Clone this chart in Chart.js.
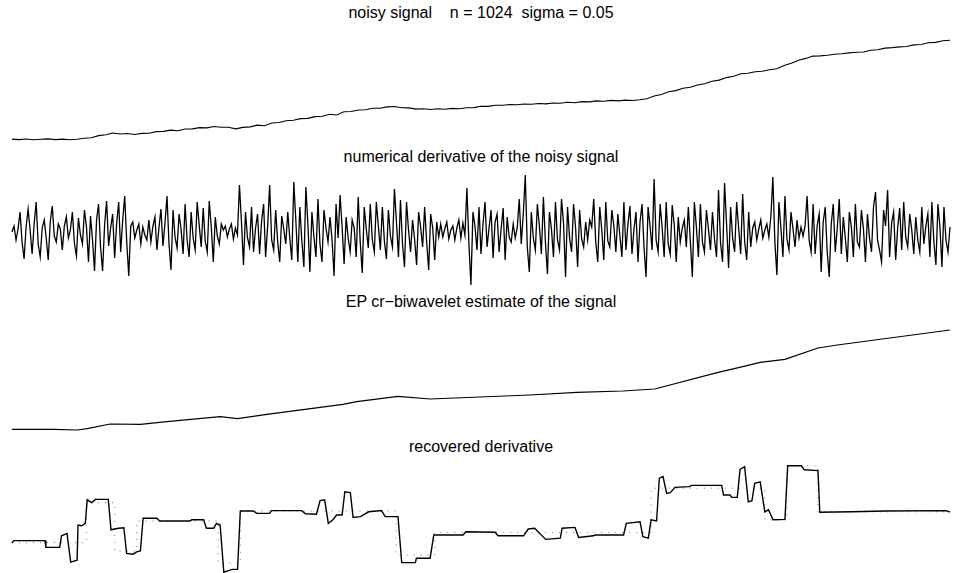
<!DOCTYPE html>
<html>
<head>
<meta charset="utf-8">
<script src="https://cdn.jsdelivr.net/npm/chart.js"></script>
<style>
  html, body { margin: 0; padding: 0; background: #fff; overflow: hidden; }
  #page { position: relative; width: 953px; height: 573px; }
  .panel { position: absolute; left: 0; width: 953px; }
  .ttl { position: absolute; left: 0; width: 962px; text-align: center;
         font: 16px "Liberation Sans", Arial, sans-serif; line-height: 16px; color: #000; white-space: pre; }
</style>
</head>
<body>
<div id="page">
  <div class="ttl" style="top:5px">noisy signal    n = 1024  sigma = 0.05</div>
  <div class="ttl" style="top:149px">numerical derivative of the noisy signal</div>
  <div class="ttl" style="top:294px">EP cr−biwavelet estimate of the signal</div>
  <div class="ttl" style="top:439px">recovered derivative</div>
  <div class="panel" style="top:30px;height:120px"><canvas id="p1"></canvas></div>
  <div class="panel" style="top:170px;height:125px"><canvas id="p2"></canvas></div>
  <div class="panel" style="top:320px;height:120px"><canvas id="p3"></canvas></div>
  <div class="panel" style="top:460px;height:113px"><canvas id="p4"></canvas></div>
</div>
<script>
const N = 1024;

// noisy signal, sampled every ~8 points
const noisySignal = [
  0.009, 0.004, 0.010, 0.003, 0.008, 0.011, 0.004, 0.009, 0.002, 0.008,
  0.017, 0.023, 0.044, 0.052, 0.070, 0.060, 0.065, 0.055, 0.066, 0.068,
  0.084, 0.086, 0.099, 0.092, 0.110, 0.111, 0.124, 0.121, 0.135, 0.127,
  0.127, 0.111, 0.126, 0.131, 0.149, 0.142, 0.170, 0.175, 0.193, 0.197,
  0.214, 0.216, 0.234, 0.238, 0.257, 0.250, 0.282, 0.285, 0.300, 0.303,
  0.318, 0.317, 0.331, 0.335, 0.322, 0.321, 0.309, 0.313, 0.305, 0.312,
  0.308, 0.316, 0.313, 0.323, 0.324, 0.337, 0.336, 0.348, 0.347, 0.355,
  0.352, 0.360, 0.357, 0.365, 0.361, 0.370, 0.367, 0.377, 0.373, 0.384,
  0.381, 0.391, 0.388, 0.396, 0.391, 0.399, 0.395, 0.403, 0.413, 0.440,
  0.455, 0.482, 0.494, 0.517, 0.527, 0.550, 0.562, 0.588, 0.599, 0.624,
  0.638, 0.662, 0.667, 0.683, 0.687, 0.703, 0.713, 0.746, 0.767, 0.798,
  0.816, 0.839, 0.841, 0.848, 0.857, 0.863, 0.871, 0.878, 0.880, 0.897,
  0.902, 0.919, 0.924, 0.931, 0.935, 0.951, 0.955, 0.972, 0.976, 0.993, 0.998
];

// numerical derivative of the noisy signal
const noisyDerivative = [
  0, 6, -8, 3, 20, -10, -27, 5, 23, 2, -22, 8, 30, -12, -25, 4, 12, -6, -28, 10, 26, -4, -10, 8, 3, -18, 6, 15, -6, 2,
  20, -11, -24, 14, -3, -12, 22, 5, -30, 16, -8, -39, 12, 28, -15, -39, 7, 31, -14, 4, 18, -26, 9, 30, -20, 12,
  36, -10, -44, 6, 10, -6, 2, 8, -12, 5, -3, -8, 12, -10, 6, 15, -18, 4, 23, -14, 9, 36, -12, -38, 22, -5, -16, 18, 3,
  -22, 28, -8, -25, 20, -6, -18, 30, 7, -15, 24, -9, -20, 31, 5, -30, 15, -4, -12, 8, 2,
  6, -5, 3, 8, -7, 4, -3, 47, 10, -33, 20, -6, -15, 25, -20, 4, 18, -22, 11, 28, -25, 6, 47, -8, -18, 22, -10, -30, 16, 3,
  -12, 20, -6, -28, 50, 12, -30, 25, -9, -35, 45, 8, -40, 20, -5, -25, 33, -12, -30, 22, 4, -10, 15, -8, -44, 28, -6,
  37, 5, -32, 15, -6, -20, 12, 4, -25, 35, -10, -41, 25, 3, -16, 28, -8, -20, 30, 6, -18, 25, -9, -27, 22, -4, -15, 43,
  10, -25, 32, -12, -35, 30, 2, -20, 12, -7, -33, 20, 5, -15, 25, -10, -38, 18, 4, -28, 10, -5,
  8, -5, 3, 10, -7, 2, 6, -8, 4, 12, -6, 9, -3, 44, -12, -53, 20, 6, -18, 25, -22, 8, 30, -15, 4, 22, -26, 10, 18, -20,
  3, 24, -28, 15, -5, -10, 8, -6, 4, 33, -12, 18, 57, -15, -40, 20, -6, -18,
  28, 6, -22, 35, -10, -42, 20, 3, -25, 30, -8, -18, 33, 9, -45, 25, -6, -20, 28, 4, -35, 22, -7, -15, 10, -8, 12, 5,
  33, -10, -30, 25, 2, -28, 30, -9, -15, 22, 6, -20, 18, -4, -25, 30, -18, 8, 26, -22, 3, 20, -30, 10, 28, -16,
  -45, 25, 6, -18, 53, -8, -20, 28, 4, -25, 30, -12, -22, 27, 7, -30, 15, -10, 4, 12, -15, 25, -9, -45, 30, 5, -25, 28,
  -10, -20, 22, 3, -18, 20, -7, -25, 42, -11, -30, 49, 8, -36, 25, -6, -20, 30, 4, -22, 38, -10, -28, 20,
  -15, 4, 10, -8, 3, 12, -6, 2, 8, -5, 15, 55, -10, -43, 30, 4, -25, 36, -7, -18, 20, 3, -15, 12, -6, 5, -4, 6, 36, -8,
  -20, 28, -22, 6, 18, -40, 10, 25, -20, -45, 8, 28, -20, 4, 33, -22, 15, -6,
  -30, 20, 5, -25, 28, -10, -15, 22, 3, -30, 18, -6, -20, 25, 40, -8, -18, -30, 22, 6, 42, -25, 9, 20, -28, 4, 24, -18,
  30, -5, -15, 18, 2, -22, 15, -8, -20, 25, -12, 6, 18, -25, 30, -10, -33, 28, 5, -35, 25, -8, -20, 5
];

// EP cr-biwavelet estimate (knots)
const estimateIdx = [0, 45, 71, 82, 107, 140, 169, 227, 246, 278, 336, 361, 376, 421, 456, 510, 565, 616, 666, 701, 769, 797, 816, 843, 879, 900, 1023];
const estimateVal = [0.007, 0.007, 0.0, 0.013, 0.06, 0.057, 0.083, 0.133, 0.113, 0.157, 0.227, 0.257, 0.283, 0.337, 0.31, 0.33, 0.35, 0.377, 0.39, 0.41, 0.573, 0.633, 0.677, 0.707, 0.82, 0.85, 1.0];

// recovered derivative
const recoveredIdx = [
  0, 2, 36, 37, 52, 54, 60, 61, 64, 71, 72, 76, 80, 82, 87, 91, 105, 108, 116, 122,
  125, 132, 136, 140, 143, 158, 161, 194, 196, 209, 212, 220, 223, 227, 231, 240, 246, 249, 263, 267,
  281, 283, 316, 320, 332, 336, 341, 345, 350, 354, 360, 363, 369, 372, 380, 389, 403, 407, 421, 425,
  440, 441, 456, 460, 492, 495, 527, 530, 558, 563, 570, 582, 598, 600, 614, 618, 634, 636, 667, 670,
  685, 688, 694, 697, 703, 706, 710, 714, 718, 723, 739, 741, 774, 776, 783, 785, 791, 794, 799, 803,
  807, 810, 816, 821, 825, 830, 843, 846, 861, 864, 879, 881, 916, 952, 1019, 1023
];
const recoveredVal = [
  0.05, 0.11, 0.11, -0.06, -0.06, 0.23, 0.29, 0.29, -0.43, -0.38, 0.5, 0.48, 0.54, 1.13, 1.06, 1.14, 1.14, 0.38, 0.42, 0.43,
  -0.21, -0.23, -0.17, -0.15, 0.67, 0.67, 0.6, 0.6, 0.63, 0.63, 0.42, 0.42, 0.54, 0.5, -0.68, -0.61, -0.61, 0.85, 0.85, 0.79,
  0.79, 0.86, 0.86, 0.78, 0.77, 1.11, 1.13, 0.54, 0.63, 0.75, 0.75, 1.33, 1.31, 0.69, 0.71, 0.83, 0.86, 0.71, 0.71, -0.44,
  -0.44, -0.33, -0.33, 0.25, 0.25, 0.33, 0.32, 0.23, 0.23, 0.4, 0.42, 0.14, 0.17, 0.42, 0.44, 0.19, 0.23, 0.25, 0.25, 0.54,
  0.58, 0.21, 0.17, 0.63, 0.6, 1.67, 1.71, 1.29, 1.31, 1.44, 1.46, 1.49, 1.49, 1.25, 1.25, 1.19, 1.19, 1.89, 1.96, 1.08,
  1.11, 1.54, 1.58, 0.83, 0.88, 0.63, 0.64, 1.98, 1.98, 1.88, 1.86, 0.82, 0.83, 0.85, 0.86, 0.82
];

// true derivative (dotted step function): value holds from each index to the next
const trueIdx = [0, 81, 112, 136, 225, 249, 419, 461, 697, 821, 845, 879, 1023];
const trueVal = [0.06, 1.06, -0.15, 0.6, -0.45, 0.85, -0.25, 0.31, 1.42, 0.63, 1.98, 0.83, 0.83];

// x range chosen so sample 0 sits at px 12 and sample 1023 at px 950 of a 953px canvas
const perPx = (N - 1) / (950 - 12);
const xMin = -12 * perPx;
const xMax = (N - 1) + 3 * perPx;

const spread = vals => vals.map((v, i) => ({ x: i * (N - 1) / (vals.length - 1), y: v }));
const pair = (idx, vals) => idx.map((x, k) => ({ x, y: vals[k] }));

function panel(id, yMin, yMax, datasets) {
  new Chart(document.getElementById(id), {
    type: 'line',
    data: { datasets },
    options: {
      responsive: true,
      maintainAspectRatio: false,
      animation: false,
      events: [],
      layout: { padding: 0 },
      plugins: { legend: { display: false }, tooltip: { enabled: false }, title: { display: false } },
      scales: {
        x: { type: 'linear', min: xMin, max: xMax, display: false },
        y: { type: 'linear', min: yMin, max: yMax, display: false }
      },
      elements: { point: { radius: 0 }, line: { tension: 0 } }
    }
  });
}

panel('p1', -0.1, 1.1, [
  { data: spread(noisySignal), borderColor: '#000', borderWidth: 1.1 }
]);

panel('p2', -63, 62, [
  { data: spread(noisyDerivative), borderColor: '#000', borderWidth: 1.3 }
]);

panel('p3', -0.1, 1.1, [
  { data: pair(estimateIdx, estimateVal), borderColor: '#000', borderWidth: 1.2 }
]);

panel('p4', -0.7, 2.125, [
  { data: pair(recoveredIdx, recoveredVal), borderColor: '#000', borderWidth: 1.4, order: 0 },
  { data: pair(trueIdx, trueVal), borderColor: '#777', borderWidth: 1, borderDash: [1, 6], stepped: true, order: 1 }
]);
</script>
</body>
</html>
